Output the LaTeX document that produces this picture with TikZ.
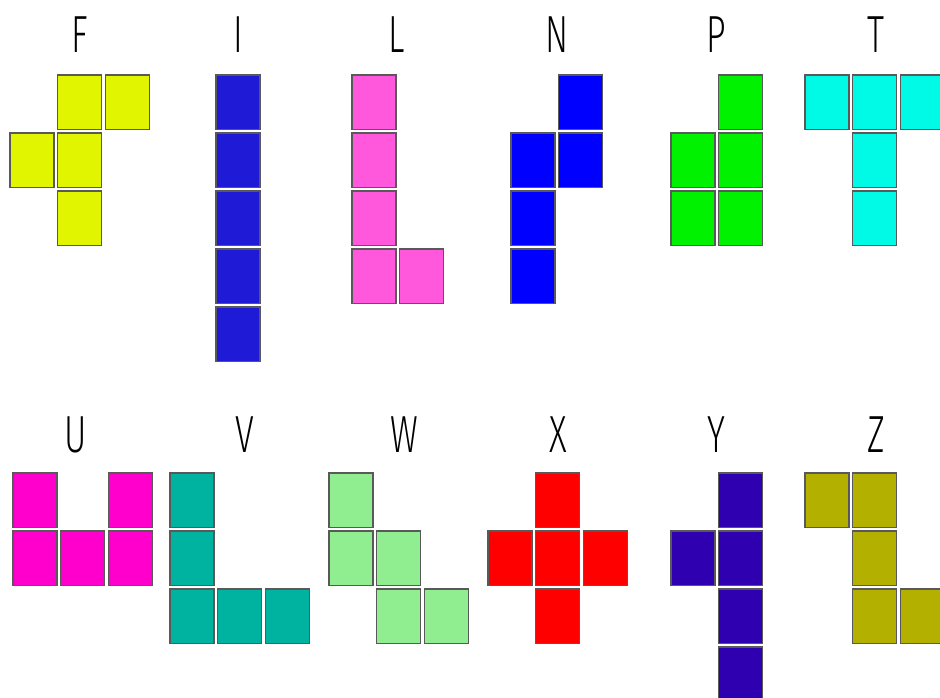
\documentclass[tikz,border=0pt]{standalone}
\usepackage{fontspec}
\IfFontExistsTF{Fira Sans Light}{\newfontfamily\lblfont{Fira Sans Light}\def\lblxs{0.95}\def\lblys{1.45}}{\newfontfamily\lblfont{Liberation Sans}\def\lblxs{0.85}\def\lblys{1.4}}
\definecolor{cF}{RGB}{226,245,0}
\definecolor{cI}{RGB}{30,26,214}
\definecolor{cL}{RGB}{255,88,220}
\definecolor{cN}{RGB}{0,0,255}
\definecolor{cP}{RGB}{0,242,0}
\definecolor{cT}{RGB}{0,250,230}
\definecolor{cU}{RGB}{255,0,204}
\definecolor{cV}{RGB}{0,178,160}
\definecolor{cW}{RGB}{144,238,144}
\definecolor{cX}{RGB}{255,0,0}
\definecolor{cY}{RGB}{46,0,176}
\definecolor{cZ}{RGB}{180,176,0}
\newcommand{\pent}[4]{\foreach \c/\r in {#4} {\draw[cell,fill=#3] ({#1+\c*47.7},{#2+\r*58}) rectangle ++(44,54.5);}}
\begin{document}
\begin{tikzpicture}[x=1pt,y=-1pt,
  cell/.style={draw=black!65,line width=1.1pt},
  lbl/.style={anchor=base,inner sep=0pt,font=\lblfont\fontsize{36}{36}\selectfont,xscale=\lblxs,yscale=\lblys}]
\fill[white] (0,0) rectangle (940,698);
\useasboundingbox (0,0) rectangle (940,698);
\clip (0,0) rectangle (940,698);
% top row
\pent{10}{75}{cF}{1/0,2/0,0/1,1/1,1/2}
\pent{216}{75}{cI}{0/0,0/1,0/2,0/3,0/4}
\pent{352}{75}{cL}{0/0,0/1,0/2,0/3,1/3}
\pent{511}{75}{cN}{1/0,0/1,1/1,0/2,0/3}
\pent{671}{75}{cP}{1/0,0/1,1/1,0/2,1/2}
\pent{805}{75}{cT}{0/0,1/0,2/0,1/1,1/2}
% bottom row
\pent{13}{473}{cU}{0/0,2/0,0/1,1/1,2/1}
\pent{170}{473}{cV}{0/0,0/1,0/2,1/2,2/2}
\pent{329}{473}{cW}{0/0,0/1,1/1,1/2,2/2}
\pent{488}{473}{cX}{1/0,0/1,1/1,2/1,1/2}
\pent{671}{473}{cY}{1/0,0/1,1/1,1/2,1/3}
\pent{805}{473}{cZ}{0/0,1/0,1/1,1/2,2/2}
% labels
\node[lbl] (lF) at (80,53) {F};
\node[lbl] (lI) at (238,53) {I};
\node[lbl] (lL) at (397,53) {L};
\node[lbl] (lN) at (557,53) {N};
\node[lbl] (lP) at (716,53) {P};
\node[lbl] (lT) at (876,53) {T};
\node[lbl] (lU) at (76,452) {U};
\node[lbl] (lV) at (245,452) {V};
\node[lbl] (lW) at (404,452) {W};
\node[lbl] (lX) at (558,452) {X};
\node[lbl] (lY) at (716,452) {Y};
\node[lbl] (lZ) at (876,452) {Z};
\end{tikzpicture}
\end{document}
